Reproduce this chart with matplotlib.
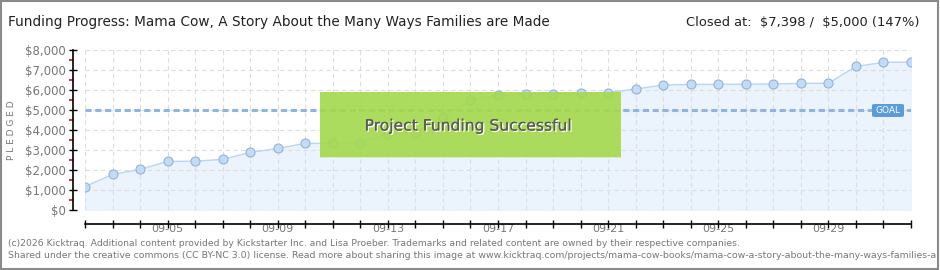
import matplotlib
matplotlib.use('Agg')
import matplotlib.pyplot as plt
from matplotlib.ticker import FixedLocator, MultipleLocator, FuncFormatter
from matplotlib.patches import Rectangle, FancyBboxPatch
import matplotlib.patheffects as pe

# days of the campaign (09-02 .. 10-02) and pledged totals
days = ['09-02', '09-03', '09-04', '09-05', '09-06', '09-07', '09-08', '09-09',
        '09-10', '09-11', '09-12', '09-13', '09-14', '09-15', '09-16', '09-17',
        '09-18', '09-19', '09-20', '09-21', '09-22', '09-23', '09-24', '09-25',
        '09-26', '09-27', '09-28', '09-29', '09-30', '10-01', '10-02']
pledged = [1170, 1780, 2030, 2430, 2440, 2530, 2880, 3080, 3330, 3330, 3370,
           3800, 3870, 4630, 5500, 5750, 5810, 5820, 5860, 5870, 6050, 6250,
           6280, 6285, 6290, 6300, 6330, 6335, 7180, 7380, 7398]
goal = 5000
labelled_days = ['09-05', '09-09', '09-13', '09-17', '09-21', '09-25', '09-29']

W, H = 940, 270
fig = plt.figure(figsize=(W / 100, H / 100), dpi=100)
fig.patch.set_facecolor('white')


def fx(px):
    return px / W


def fy(py):
    return 1 - py / H


# outer frame
fig.add_artist(Rectangle((0.001, 0.002), 0.997, 0.995, transform=fig.transFigure,
                         fill=False, edgecolor='#8a8a8a', linewidth=1.5))

x0, x1, ytop, ybot = 85, 911, 50, 210
ax = fig.add_axes([fx(x0), fy(ybot), (x1 - x0) / W, (ybot - ytop) / H])
xs = list(range(len(days)))

ax.set_xlim(0, len(days) - 1)
ax.set_ylim(0, 8000)
ax.set_facecolor('white')

ax.fill_between(xs, pledged, 0, color='#ebf3fc', zorder=1)
ax.plot(xs, pledged, color='#b9d6f2', linewidth=1, zorder=3)
ax.plot(xs, pledged, 'o', markersize=6.5, markerfacecolor='#c2dcf7',
        markeredgecolor='#93b3d6', markeredgewidth=0.8, zorder=4)

ax.axhline(goal, color='#8fb5de', linestyle=(0, (2, 1.2)), linewidth=2.2, zorder=2)

# grid
ax.set_xticks(xs)
ax.yaxis.set_major_locator(MultipleLocator(1000))
ax.yaxis.set_minor_locator(FixedLocator([500 + 1000 * i for i in range(8)]))
ax.grid(True, which='major', color='#dddddd', linestyle=(0, (4, 3)), linewidth=0.8, zorder=0)

for s in ['top', 'right']:
    ax.spines[s].set_visible(False)
ax.spines['left'].set_position(('outward', 9))
ax.spines['bottom'].set_position(('outward', 10))
ax.spines['left'].set_linewidth(1.2)
ax.spines['bottom'].set_linewidth(1.2)

ax.xaxis.set_major_formatter(FuncFormatter(
    lambda v, p: days[int(v)] if 0 <= int(v) < len(days) and days[int(v)] in labelled_days else ''))
ax.yaxis.set_major_formatter(FuncFormatter(lambda v, p: '\\${:,.0f}'.format(v)))
ax.tick_params(axis='x', which='major', direction='inout', length=6, width=1,
               labelsize=8, labelcolor='#777777', pad=-3)
ax.tick_params(axis='y', which='major', direction='inout', length=6, width=1,
               labelsize=8.5, labelcolor='#777777', pad=2)
ax.tick_params(axis='y', which='minor', direction='out', length=3, width=1.2,
               color='#e00000')

ax.set_ylabel('P L E D G E D', fontsize=6.5, color='#777777', labelpad=6)

# success banner
fig.add_artist(Rectangle((fx(320), fy(157)), 301 / W, 65 / H, transform=fig.transFigure,
                         facecolor='#a3d94c', edgecolor='none', alpha=0.9, zorder=6))
fig.add_artist(Rectangle((fx(320), fy(158)), 301 / W, 1.5 / H,
                         transform=fig.transFigure, facecolor='#d7ecc0',
                         edgecolor='none', zorder=7))
fig.text(fx(468), fy(126), 'Project Funding Successful', fontsize=11.2,
         color='#5a5a5a', ha='center', va='center', family='DejaVu Sans',
         path_effects=[pe.withSimplePatchShadow(offset=(1, -1), shadow_rgbFace='white', alpha=1),
                       pe.Normal()], zorder=8)

# goal tag
fig.add_artist(FancyBboxPatch((fx(872), fy(117)), 32 / W, 13 / H,
                              boxstyle='round,pad=0,rounding_size=0.004',
                              transform=fig.transFigure, facecolor='#5a9bdc',
                              edgecolor='none', zorder=9))
fig.text(fx(888), fy(110.5), 'GOAL', fontsize=6.5, color='white',
         ha='center', va='center', zorder=10)

# headings
fig.text(fx(8), fy(22), 'Funding Progress: Mama Cow, A Story About the Many Ways Families are Made',
         fontsize=9.8, color='#222222', ha='left', va='center', family='DejaVu Sans')
fig.text(fx(920), fy(22), 'Closed at:  \\$7,398 /  \\$5,000 (147%)',
         fontsize=9.4, color='#222222', ha='right', va='center', family='DejaVu Sans')

fig.text(fx(8), fy(243),
         '(c)2026 Kicktraq. Additional content provided by Kickstarter Inc. and Lisa Proeber. '
         'Trademarks and related content are owned by their respective companies.',
         fontsize=6.65, color='#777777', ha='left', va='center', family='DejaVu Sans')
fig.text(fx(8), fy(256),
         'Shared under the creative commons (CC BY-NC 3.0) license. Read more about sharing this image at '
         'www.kicktraq.com/projects/mama-cow-books/mama-cow-a-story-about-the-many-ways-families-a',
         fontsize=6.75, color='#777777', ha='left', va='center', family='DejaVu Sans')

fig.savefig('out.png', dpi=100)
